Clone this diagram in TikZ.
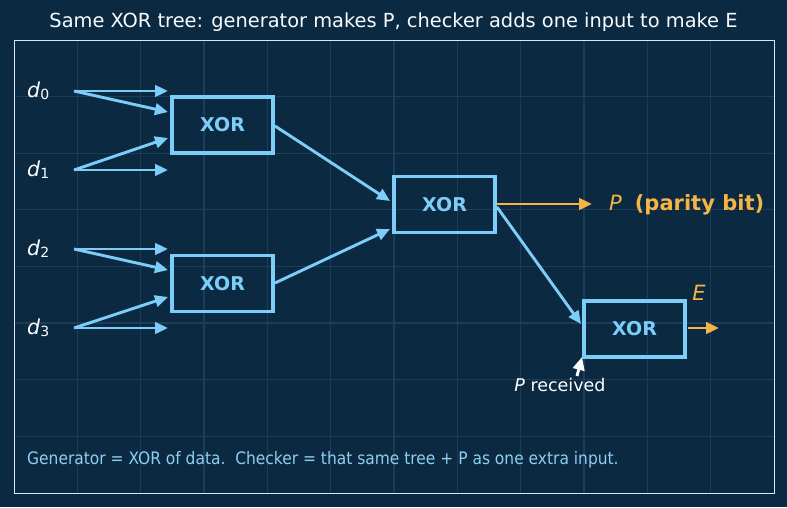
\documentclass[tikz,border=0pt]{standalone}
\usepackage{fontspec}
\setmainfont{DejaVu Sans}
\newfontfamily\condfont{DejaVu Sans Condensed}
\usetikzlibrary{arrows.meta,calc}
\definecolor{bg}{HTML}{0C2942}
\definecolor{gridc}{HTML}{1C3D5A}
\definecolor{framec}{HTML}{DCE6EE}
\definecolor{sky}{HTML}{7CCEF8}
\definecolor{amber}{HTML}{F5B445}
\definecolor{capc}{HTML}{8CCFEF}
\tikzset{
  xorbox/.style={draw=sky, line width=3.5pt, minimum width=101pt, minimum height=56pt, inner sep=0pt,
    text=sky, font=\fontsize{19}{19}\selectfont\bfseries},
  arr/.style={draw=sky, line width=2.9pt, -{Triangle[length=13pt,width=11.5pt]}},
  oarr/.style={draw=amber, line width=2.9pt, -{Triangle[length=13pt,width=11.5pt]}},
  warr/.style={draw=white, line width=2.9pt, -{Triangle[length=13pt,width=11.5pt]}},
  dlab/.style={text=white, font=\fontsize{20.5}{20.5}\selectfont, inner sep=0pt, anchor=base west},
}
\newcommand{\dsub}[1]{\textit{d}\raisebox{-1.8pt}{\fontsize{14}{14}\selectfont #1}}
\begin{document}
\begin{tikzpicture}[x=1pt,y=-1pt]
\useasboundingbox (0,0) rectangle (787,507);
\fill[bg] (0,0) rectangle (787,507);
% grid
\foreach \i in {1,...,11} \draw[gridc, line width=1.3pt] ({14+\i*63.333},40) -- ({14+\i*63.333},493);
\foreach \j in {1,...,7} \draw[gridc, line width=1.3pt] (14,{40+\j*56.6}) -- (774,{40+\j*56.6});
\draw[framec, line width=1pt] (14,40) rectangle (774,493);
% title
\node[text=white!94!sky, font=\fontsize{19.4}{19.4}\selectfont] (title) at (393.5,22) {Same XOR tree: generator makes P, checker adds one input to make E};
% inputs
\node[dlab] (d0) at (27,97.7) {\dsub{0}};
\node[dlab] (d1) at (27,176.7) {\dsub{1}};
\node[dlab] (d2) at (27,255.7) {\dsub{2}};
\node[dlab] (d3) at (27,334.7) {\dsub{3}};
% gates
\node[xorbox] (x1) at (222.5,125) {XOR};
\node[xorbox] (x2) at (222.5,283.5) {XOR};
\node[xorbox] (x3) at (444.5,204.5) {XOR};
\node[xorbox] (x4) at (634.5,329) {XOR};
% input arrow coordinates
\coordinate (s0) at (74,91);
\coordinate (s1) at (74,170);
\coordinate (s2) at (74,249);
\coordinate (s3) at (74,328);
\coordinate (t0a) at (168,91);
\coordinate (t0b) at (168,112);
\coordinate (t1a) at (168,138);
\coordinate (t1b) at (168,170);
\coordinate (t2a) at (168,249);
\coordinate (t2b) at (168,270);
\coordinate (t3a) at (168,297);
\coordinate (t3b) at (168,328);
\draw[arr] (s0) -- (t0a);
\draw[arr] (s0) -- (t0b);
\draw[arr] (s1) -- (t1a);
\draw[arr] (s1) -- (t1b);
\draw[arr] (s2) -- (t2a);
\draw[arr] (s2) -- (t2b);
\draw[arr] (s3) -- (t3a);
\draw[arr] (s3) -- (t3b);
% tree
\coordinate (e1) at (275,126);
\coordinate (e2) at (275,283);
\coordinate (m1) at (390,201);
\coordinate (m2) at (390,229);
\draw[arr] (e1) -- (m1);
\draw[arr] (e2) -- (m2);
% outputs
\coordinate (e3a) at (497,204);
\coordinate (e3b) at (497,207);
\coordinate (pend) at (592,204);
\coordinate (m4) at (581,324);
\draw[oarr] (e3a) -- (pend);
\draw[arr] (e3b) -- (m4);
\node[text=amber, anchor=west, inner sep=0pt, font=\fontsize{21}{21}\selectfont] (plab) at (609,204.5) {\textit{P}\hspace{13pt}\textbf{(parity bit)}};
\coordinate (e4) at (688,328);
\coordinate (eend) at (719,328);
\draw[oarr] (e4) -- (eend);
\node[text=amber, inner sep=0pt, font=\fontsize{21}{21}\selectfont] (elab) at (699,293) {\textit{E}};
% P received
\node[text=white, inner sep=0pt, font=\fontsize{17.5}{17.5}\selectfont] (prec) at (560,385) {\textit{P} received};
\coordinate (ps) at (577,376);
\coordinate (pt) at (582,357);
\draw[warr] (ps) -- (pt);
% caption
\node[text=capc, anchor=west, inner sep=0pt, font=\condfont\fontsize{17.2}{17.2}\selectfont] (cap) at (27,460) {Generator = XOR of data.\ \ Checker = that same tree + P as one extra input.};
\end{tikzpicture}
\end{document}
